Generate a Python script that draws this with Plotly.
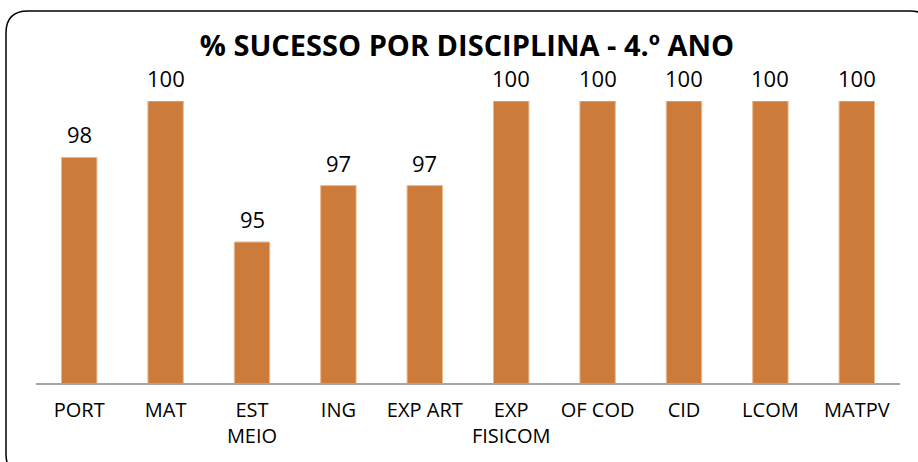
import plotly.graph_objects as go

categories = ["PORT", "MAT", "EST<br>MEIO", "ING", "EXP ART", "EXP<br>FISICOM", "OF COD", "CID", "LCOM", "MATPV"]
values = [98, 100, 95, 97, 97, 100, 100, 100, 100, 100]
title_text = "% SUCESSO POR DISCIPLINA - 4.º ANO"

W, H = 918, 462
L, R, T, B = 36, 18, 101, 79
pw, ph = W - L - R, H - T - B
FONT = "Open Sans"

fig = go.Figure()
fig.add_trace(go.Bar(
    x=categories, y=values,
    marker=dict(color="#CD7B3A", line=dict(color="#E9B98F", width=1)),
    width=0.41,
    cliponaxis=False,
))
for c, v in zip(categories, values):
    fig.add_annotation(x=c, y=v, text=str(v), showarrow=False, yshift=23,
                       font=dict(size=22, color="#000000", family=FONT))

def px(x):
    return (x - L) / pw

def py(y):
    return (H - B - y) / ph

x0, x1, y0, y1 = 6, 932, 11, 476
r = 22
path = (f"M {px(x0+r)},{py(y0)} L {px(x1-r)},{py(y0)} Q {px(x1)},{py(y0)} {px(x1)},{py(y0+r)} "
        f"L {px(x1)},{py(y1-r)} Q {px(x1)},{py(y1)} {px(x1-r)},{py(y1)} "
        f"L {px(x0+r)},{py(y1)} Q {px(x0)},{py(y1)} {px(x0)},{py(y1-r)} "
        f"L {px(x0)},{py(y0+r)} Q {px(x0)},{py(y0)} {px(x0+r)},{py(y0)} Z")
fig.add_shape(type="path", path=path, xref="paper", yref="paper",
              line=dict(color="#000000", width=1.5))

fig.update_layout(
    width=W, height=H,
    margin=dict(l=L, r=R, t=T, b=B),
    paper_bgcolor="white", plot_bgcolor="white",
    showlegend=False,
    title=dict(text=f"<b>{title_text}</b>", x=467 / W, xanchor="center",
               y=1 - 46 / H, yanchor="middle",
               font=dict(size=29, color="#000000", family=FONT)),
    xaxis=dict(showline=True, linecolor="#A6A6A6", linewidth=2, ticks="",
               tickfont=dict(size=20, color="#000000", family=FONT),
               ticklabelstandoff=8, showgrid=False),
    yaxis=dict(range=[90, 100], visible=False, showgrid=False),
    font=dict(family=FONT),
)
fig.write_html("out.html", config={"displayModeBar": False},
               post_script="document.body.style.margin='0';document.body.style.overflow='hidden';")
